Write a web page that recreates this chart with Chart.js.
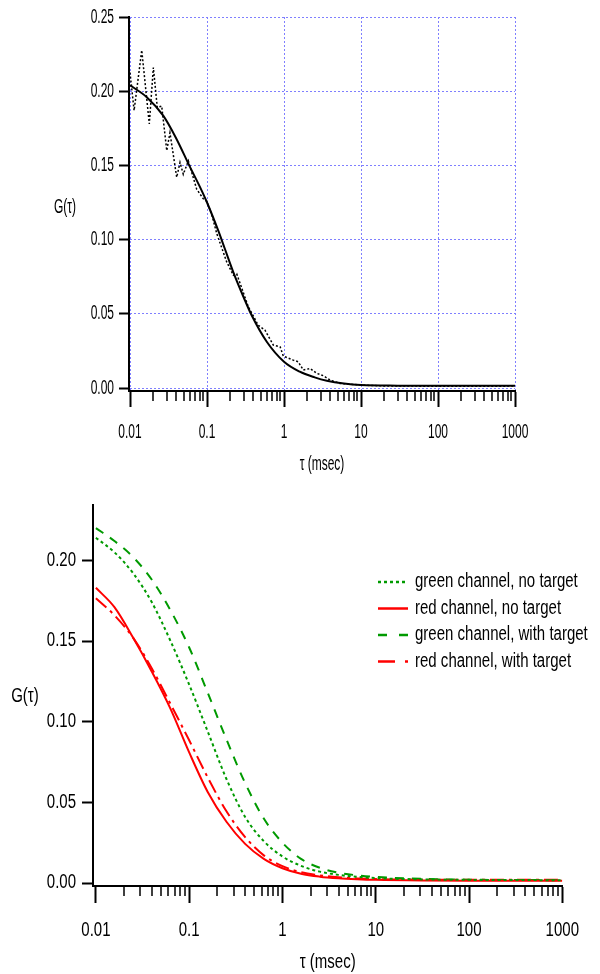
<!DOCTYPE html>
<html>
<head>
<meta charset="utf-8">
<script src="https://cdn.jsdelivr.net/npm/chart.js@4.4.1/dist/chart.umd.min.js"></script>
<style>
html,body{margin:0;padding:0;background:#fff;}
.box{position:relative;width:600px;height:487px;}
</style>
</head>
<body>
<div class="box"><canvas id="fitChart"></canvas></div>
<div class="box"><canvas id="chanChart"></canvas></div>
<script>
/* top panel: measured G(tau) (dotted) and fit (solid) */
const tauData = [0.01,0.0113,0.0142,0.0178,0.0201,0.0226,0.0258,0.030,0.033,0.0404,0.0446,0.0492,0.0572,0.0734,0.0895,0.099,0.115,0.134,0.18,0.22,0.243,0.344,0.463,0.566,0.726,0.89,0.98,1.32,1.53,1.78,2.18,2.66,3.24,3.96,5.34,10,20,50,100,300,1000];
const gData   = [0.2126,0.187,0.2276,0.178,0.216,0.189,0.190,0.160,0.172,0.142,0.152,0.144,0.153,0.134,0.1275,0.126,0.117,0.104,0.085,0.076,0.077,0.0547,0.0423,0.039,0.029,0.0278,0.0215,0.0188,0.0177,0.0121,0.0132,0.0099,0.0083,0.0054,0.0031,0.002,0.0014,0.0013,0.0012,0.0012,0.0013];
const tauFit  = [0.01,0.0165,0.027,0.04,0.06,0.08,0.1,0.14,0.17,0.22,0.3,0.38,0.6,1.0,1.6,2.5,3.6,6,10,30,100,1000];
const gFit    = [0.204,0.196,0.1835,0.168,0.149,0.136,0.125,0.106,0.094,0.078,0.061,0.049,0.031,0.0177,0.011,0.0072,0.0049,0.003,0.002,0.0016,0.0015,0.0015];

/* bottom panel: four channels, read on a common tau grid */
const tauChan    = [0.01,0.0158,0.0251,0.0398,0.0631,0.1,0.158,0.251,0.398,0.631,1,1.58,2.51,3.98,6.31,10,31.6,100,1000];
const gGreenNo   = [0.214,0.205,0.192,0.174,0.150,0.123,0.094,0.0645,0.041,0.026,0.0165,0.0107,0.0071,0.0051,0.0039,0.0031,0.0023,0.002,0.0018];
const gRedNo     = [0.183,0.171,0.152,0.131,0.108,0.081,0.0565,0.038,0.0243,0.015,0.0092,0.0058,0.0040,0.0030,0.0024,0.0020,0.0016,0.0015,0.0015];
const gGreenT    = [0.220,0.212,0.202,0.188,0.169,0.146,0.118,0.089,0.062,0.040,0.025,0.015,0.0095,0.0065,0.0048,0.0038,0.0026,0.0021,0.0018];
const gRedT      = [0.1765,0.166,0.152,0.133,0.111,0.0885,0.0655,0.0445,0.0285,0.0172,0.0105,0.0068,0.0048,0.0036,0.0029,0.0025,0.0021,0.002,0.002];

/* ticks */
const xMajor = [0.01,0.1,1,10,100,1000];
const xLabels = ['0.01','0.1','1','10','100','1000'];
const yTopTicks = [0,0.05,0.10,0.15,0.20,0.25];
const yTopLabels = ['0.00','0.05','0.10','0.15','0.20','0.25'];
const yBotTicks = [0,0.05,0.10,0.15,0.20];
const yBotLabels = ['0.00','0.05','0.10','0.15','0.20'];
const xMinor = [];
for (let d = 0.01; d < 1000; d *= 10) for (let k = 2; k <= 9; k++) xMinor.push(+(d*k).toPrecision(3));

const FONT = "'Liberation Sans',Arial,sans-serif";
const GREEN = '#009a00', RED = '#ff0000', GRIDBLUE = '#7f7fff';

function pts(xs, ys){ return xs.map((x,i)=>({x, y: ys[i]})); }

// the original lettering is a narrow face; squeeze canvas text horizontally
function squeezeText(el, k){
  const ctx = el.getContext('2d');
  const fill = ctx.fillText.bind(ctx);
  ctx.fillText = (t, x, y, mw) => {
    const w = ctx.measureText(t).width * k;
    fill(t, x, y, mw === undefined ? w : Math.min(mw, w));
  };
  return el;
}

/* little plugins: minor x ticks, horizontal y title, inline legend */
const minorTicks = {
  id: 'minorTicks',
  afterDraw(chart, args, opts){
    const sx = chart.scales.x, ctx = chart.ctx, y0 = chart.chartArea.bottom + 1;
    ctx.save(); ctx.strokeStyle = '#000'; ctx.lineWidth = 1.5; ctx.setLineDash([]);
    ctx.beginPath();
    xMinor.forEach(v => { const px = Math.round(sx.getPixelForValue(v)); ctx.moveTo(px, y0); ctx.lineTo(px, y0 + opts.len); });
    ctx.stroke(); ctx.restore();
  }
};
const sideLabel = {
  id: 'sideLabel',
  afterDraw(chart, args, opts){
    const ctx = chart.ctx;
    ctx.save(); ctx.fillStyle = '#000'; ctx.font = opts.size + 'px ' + FONT;
    ctx.textAlign = 'center'; ctx.textBaseline = 'middle';
    ctx.fillText('G(τ)', opts.x, opts.y); ctx.restore();
  }
};
const lineLegend = {
  id: 'lineLegend',
  afterDraw(chart, args, opts){
    if (!opts.show) return;
    const ctx = chart.ctx;
    ctx.save(); ctx.font = opts.size + 'px ' + FONT; ctx.textBaseline = 'middle'; ctx.textAlign = 'left';
    chart.data.datasets.forEach((ds, i) => {
      const y = opts.y + i*opts.row;
      ctx.strokeStyle = ds.borderColor; ctx.lineWidth = 2.5; ctx.setLineDash(ds.legendDash);
      ctx.beginPath(); ctx.moveTo(opts.x, y); ctx.lineTo(opts.x + 30, y); ctx.stroke();
      ctx.setLineDash([]); ctx.fillStyle = '#000'; ctx.fillText(ds.label, opts.x + 37, y);
    });
    ctx.restore();
  }
};

function axes(cfg){
  return {
    x: {
      type: 'logarithmic', min: cfg.xmin, max: 1000,
      afterFit: s => { s.height = cfg.xh; },
      afterBuildTicks: s => { s.ticks = xMajor.map(v => ({value: v})); },
      ticks: { autoSkip: false, maxRotation: 0, color: '#000', padding: cfg.tpad,
               font: {family: FONT, size: cfg.fs}, callback: v => xLabels[xMajor.indexOf(v)] },
      grid: { display: true, drawOnChartArea: cfg.grid, color: GRIDBLUE, lineWidth: 1,
              tickLength: cfg.xtl, tickColor: '#000', tickWidth: 2 },
      border: { display: true, color: '#000', width: 2, dash: [2,2] },
      title: { display: true, text: 'τ (msec)', color: '#000', font: {family: FONT, size: cfg.fs},
               padding: {top: 0, bottom: cfg.titlePad} }
    },
    y: {
      min: cfg.ymin, max: cfg.ymax,
      afterFit: s => { s.width = cfg.yw; },
      afterBuildTicks: s => { s.ticks = cfg.yt.map(v => ({value: v})); },
      ticks: { color: '#000', padding: cfg.ypad, font: {family: FONT, size: cfg.fs},
               callback: v => cfg.yl[cfg.yt.findIndex(t => Math.abs(t - v) < 1e-9)] },
      grid: { display: true, drawOnChartArea: cfg.grid, color: GRIDBLUE, lineWidth: 1,
              tickLength: cfg.ytl, tickColor: '#000', tickWidth: 2 },
      border: { display: true, color: '#000', width: 2, dash: [2,2] }
    }
  };
}

Chart.defaults.font.family = FONT;

new Chart(squeezeText(document.getElementById('fitChart'), 0.6), {
  type: 'scatter',
  data: { datasets: [
    { label: 'data', data: pts(tauData, gData), showLine: true, borderColor: '#000', borderWidth: 1.5,
      borderDash: [2,2], pointRadius: 0, tension: 0, legendDash: [2,2] },
    { label: 'fit', data: pts(tauFit, gFit), showLine: true, borderColor: '#000', borderWidth: 2,
      pointRadius: 0, cubicInterpolationMode: 'monotone', legendDash: [] }
  ]},
  options: {
    responsive: true, maintainAspectRatio: false, animation: false, devicePixelRatio: 1,
    layout: { padding: {top: 16, right: 85, left: 0, bottom: 0} },
    scales: axes({xmin: 0.0097, xh: 96, tpad: 13, fs: 20, xtl: 16, grid: true, titlePad: 11,
                  ymin: -0.002, ymax: 0.25, yw: 129, yt: yTopTicks, yl: yTopLabels, ypad: 5, ytl: 10}),
    plugins: { legend: {display: false}, tooltip: {enabled: false},
               minorTicks: {len: 9}, sideLabel: {x: 65, y: 207, size: 20}, lineLegend: {show: false} }
  },
  plugins: [minorTicks, sideLabel, lineLegend]
});

new Chart(squeezeText(document.getElementById('chanChart'), 0.77), {
  type: 'scatter',
  data: { datasets: [
    { label: 'green channel, no target', data: pts(tauChan, gGreenNo), showLine: true, borderColor: GREEN,
      borderWidth: 2, borderDash: [3,3], pointRadius: 0, cubicInterpolationMode: 'monotone', legendDash: [3,3] },
    { label: 'red channel, no target', data: pts(tauChan, gRedNo), showLine: true, borderColor: RED,
      borderWidth: 2, pointRadius: 0, cubicInterpolationMode: 'monotone', legendDash: [] },
    { label: 'green channel, with target', data: pts(tauChan, gGreenT), showLine: true, borderColor: GREEN,
      borderWidth: 2, borderDash: [9,8], pointRadius: 0, cubicInterpolationMode: 'monotone', legendDash: [9,12] },
    { label: 'red channel, with target', data: pts(tauChan, gRedT), showLine: true, borderColor: RED,
      borderWidth: 2, borderDash: [14,5,3,5], pointRadius: 0, cubicInterpolationMode: 'monotone', legendDash: [17,10,4,10] }
  ]},
  options: {
    responsive: true, maintainAspectRatio: false, animation: false, devicePixelRatio: 1,
    layout: { padding: {top: 15, right: 20, left: 0, bottom: 0} },
    scales: axes({xmin: 0.00931, xh: 88, tpad: 16, fs: 19.5, xtl: 17, grid: false, titlePad: 0,
                  ymin: -0.0018, ymax: 0.2345, yw: 93, yt: yBotTicks, yl: yBotLabels, ypad: 6, ytl: 11}),
    plugins: { legend: {display: false}, tooltip: {enabled: false},
               minorTicks: {len: 9}, sideLabel: {x: 25, y: 210, size: 19.5},
               lineLegend: {show: true, x: 378, y: 95, row: 26.5, size: 19.5} }
  },
  plugins: [minorTicks, sideLabel, lineLegend]
});
</script>
</body>
</html>
